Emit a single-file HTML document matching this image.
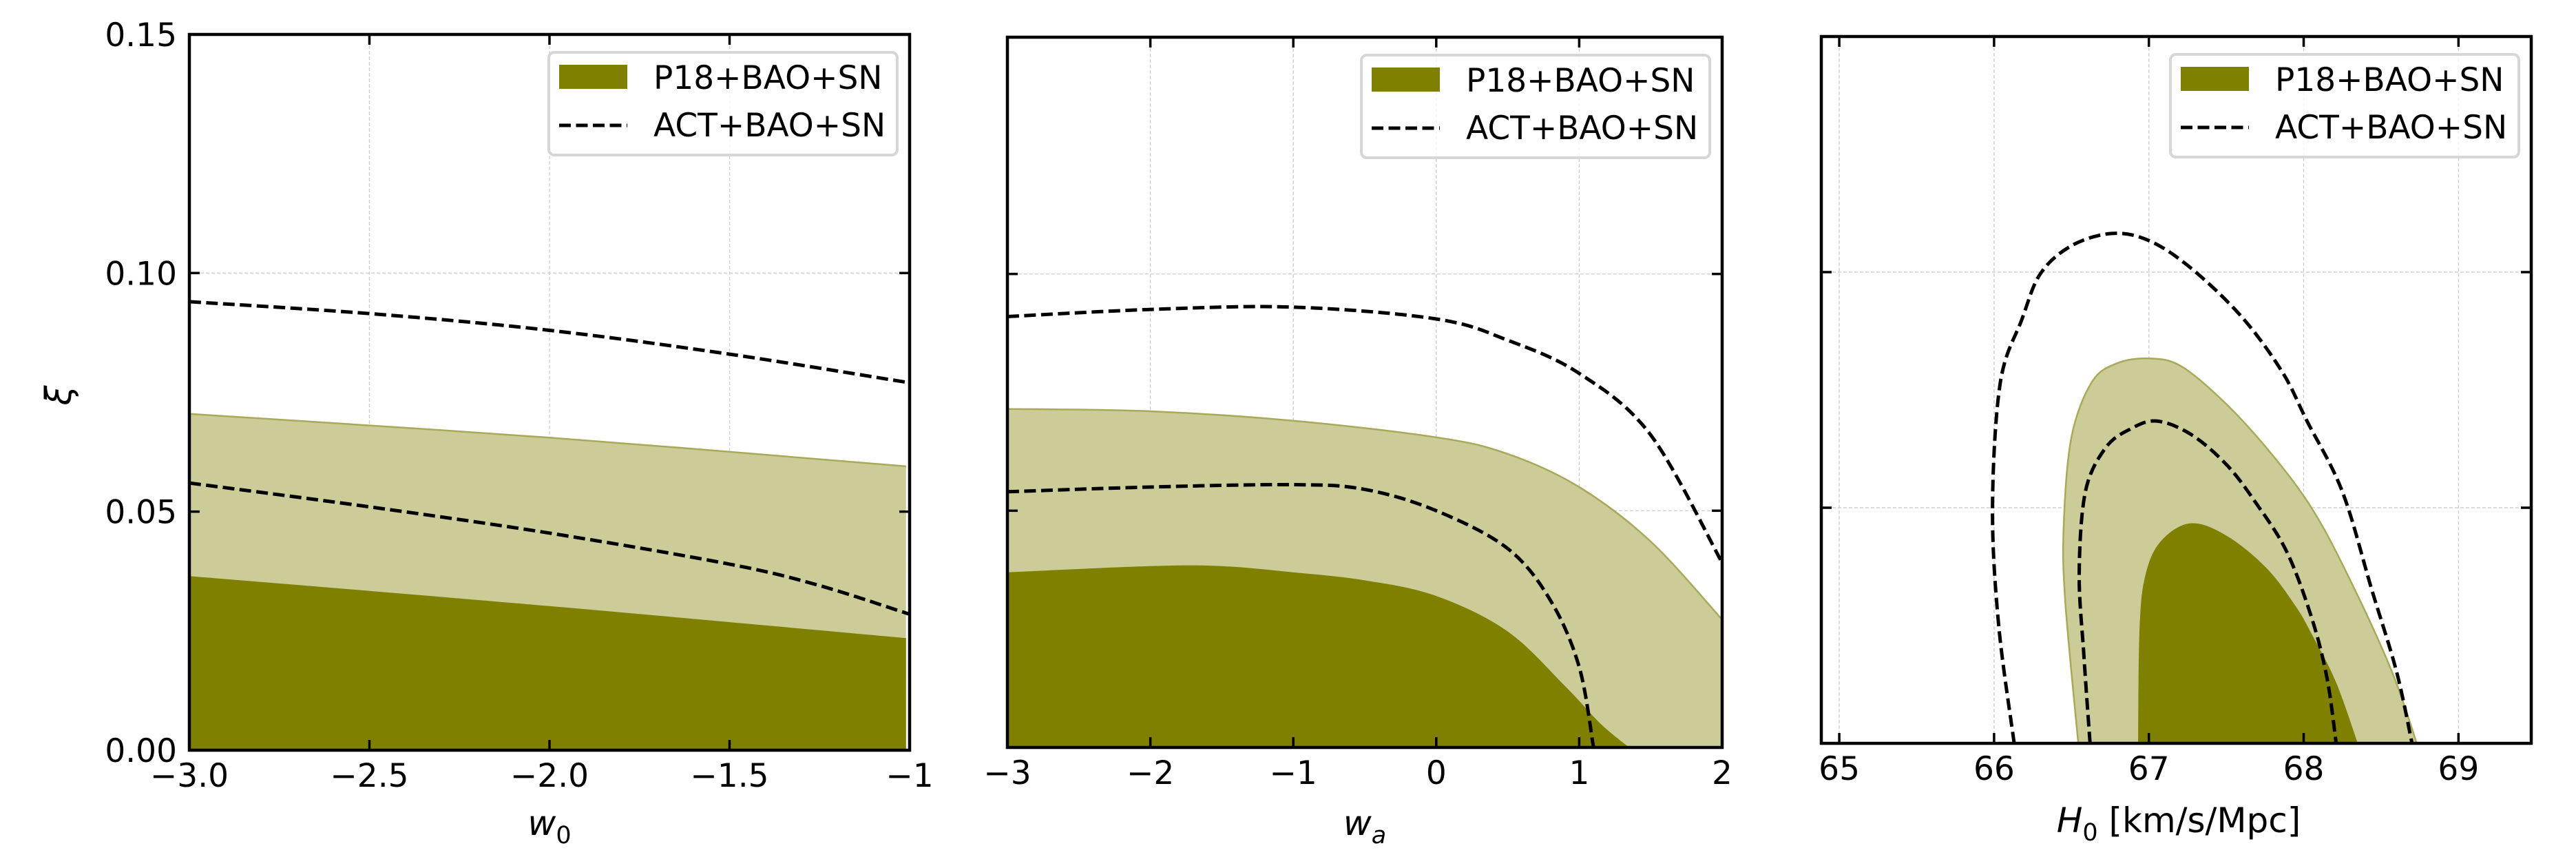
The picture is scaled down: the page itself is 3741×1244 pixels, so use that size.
<!DOCTYPE html>
<html><head><meta charset="utf-8"><style>
html,body{margin:0;padding:0;background:#fff;}
svg{display:block;}
text{font-family:"DejaVu Sans","Liberation Sans",sans-serif;fill:#000;}
</style></head><body>
<svg id="s" width="3741" height="1244" xmlns="http://www.w3.org/2000/svg"></svg>
<script>
const S=document.getElementById('s');let out='';
function cr(pts){
  let d='M'+pts[0][0].toFixed(1)+','+pts[0][1].toFixed(1);
  for(let i=0;i<pts.length-1;i++){
    const p0=pts[Math.max(i-1,0)],p1=pts[i],p2=pts[i+1],p3=pts[Math.min(i+2,pts.length-1)];
    const c1=[p1[0]+(p2[0]-p0[0])/6,p1[1]+(p2[1]-p0[1])/6],c2=[p2[0]-(p3[0]-p1[0])/6,p2[1]-(p3[1]-p1[1])/6];
    d+='C'+c1.map(v=>v.toFixed(1))+' '+c2.map(v=>v.toFixed(1))+' '+p2.map(v=>v.toFixed(1));
  }
  return d;
}
function panel(P){
  const X=v=>P.x0+(v-P.xmin)/(P.xmax-P.xmin)*(P.x1-P.x0);
  const Y=v=>P.y1-(v/0.15)*(P.y1-P.y0);
  const m=a=>a.map(p=>[X(p[0]),Y(p[1])]);
  out+=`<defs><clipPath id="c${P.id}"><rect x="${P.x0}" y="${P.y0}" width="${P.x1-P.x0}" height="${P.y1-P.y0}"/></clipPath></defs>`;
  out+=`<g clip-path="url(#c${P.id})">`;
  P.xt.forEach(t=>{const x=X(t);out+=`<line x1="${x}" y1="${P.y0}" x2="${x}" y2="${P.y1}" stroke="#cfcfcf" stroke-width="1.4" stroke-dasharray="5,3"/>`;});
  [0.05,0.10].forEach(t=>{const y=Y(t);out+=`<line x1="${P.x0}" y1="${y}" x2="${P.x1}" y2="${y}" stroke="#cfcfcf" stroke-width="1.4" stroke-dasharray="5,3"/>`;});
  const L=m(P.light), D=m(P.dark);
  if(P.closed){
    out+=`<path d="${cr(L)}Z" fill="#cccc99" stroke="#a9a95a" stroke-width="2.5"/>`;
    out+=`<path d="${cr(D)}Z" fill="#808000"/>`;
  }else{
    const yb=P.y1+5;
    out+=`<path d="${cr(L)}L${L[L.length-1][0]},${yb}L${L[0][0]},${yb}Z" fill="#cccc99"/>`;
    out+=`<path d="${cr(L)}" fill="none" stroke="#a9a95a" stroke-width="2.5"/>`;
    out+=`<path d="${cr(D)}L${D[D.length-1][0]},${yb}L${D[0][0]},${yb}Z" fill="#808000"/>`;
  }
  P.dash.forEach(a=>{out+=`<path d="${cr(m(a))}" fill="none" stroke="#000" stroke-width="5" stroke-dasharray="17,7.5"/>`;});
  out+='</g>';
  P.xt2.forEach(t=>{const x=X(t);out+=`<line x1="${x}" y1="${P.y1}" x2="${x}" y2="${P.y1-15}" stroke="#000" stroke-width="3.5"/><line x1="${x}" y1="${P.y0}" x2="${x}" y2="${P.y0+15}" stroke="#000" stroke-width="3.5"/>`;
    out+=`<text x="${x}" y="${P.y1+53}" font-size="47" text-anchor="middle">${P.xl(t)}</text>`;});
  [0,0.05,0.10,0.15].forEach(t=>{const y=Y(t);out+=`<line x1="${P.x0}" y1="${y}" x2="${P.x0+15}" y2="${y}" stroke="#000" stroke-width="3.5"/><line x1="${P.x1}" y1="${y}" x2="${P.x1-15}" y2="${y}" stroke="#000" stroke-width="3.5"/>`;
    if(P.id==1) out+=`<text x="${P.x0-18}" y="${y+17}" font-size="47" text-anchor="end">${t.toFixed(2)}</text>`;});
  out+=`<rect x="${P.x0}" y="${P.y0}" width="${P.x1-P.x0}" height="${P.y1-P.y0}" fill="none" stroke="#000" stroke-width="4.5"/>`;
  const lx=P.x1-524,ly=P.y0+26;
  out+=`<rect x="${lx}" y="${ly}" width="506" height="149" rx="8" fill="#fff" fill-opacity="0.8" stroke="#d6d6d6" stroke-width="4"/>`;
  out+=`<rect x="${lx+15}" y="${ly+18}" width="99" height="35" fill="#808000"/>`;
  out+=`<line x1="${lx+15}" y1="${ly+106}" x2="${lx+114}" y2="${ly+106}" stroke="#000" stroke-width="5" stroke-dasharray="17,7.5"/>`;
  out+=`<text x="${lx+152}" y="${ly+53}" font-size="47">P18+BAO+SN</text>`;
  out+=`<text x="${lx+152}" y="${ly+122}" font-size="47">ACT+BAO+SN</text>`;
  out+=P.label;
}
const mn=v=>(v<0?'\u2212':'')+Math.abs(v);
panel({id:1,x0:275,x1:1321,y0:50,y1:1089,xmin:-3,xmax:-1,xt:[-2.5,-2,-1.5],xt2:[-3,-2.5,-2,-1.5,-1],
 xl:t=>t==-1?'\u22121':mn(t)+(Number.isInteger(t)?'.0':''),
 light:[[-3,0.0705],[-2,0.0655],[-1.01,0.0595]],dark:[[-3,0.0365],[-2,0.0302],[-1.01,0.0235]],
 dash:[[[-3,0.094],[-2.5,0.0915],[-2,0.088],[-1.5,0.083],[-1,0.077]],[[-3,0.056],[-2.5,0.051],[-2,0.0455],[-1.5,0.039],[-1.25,0.0345],[-1,0.0285]]],
 label:`<text x="798" y="1212" font-size="50" font-style="italic" text-anchor="middle">w<tspan font-style="normal" font-size="35" dy="12">0</tspan></text><text x="103" y="574" font-size="52" font-style="italic" text-anchor="middle" transform="rotate(-90 103 574)">ξ</text>`});
panel({id:2,x0:1463,x1:2501,y0:54,y1:1085,xmin:-3,xmax:2,xt:[-2,-1,0,1],xt2:[-3,-2,-1,0,1,2],xl:mn,
 light:[[-3,0.0715],[-2,0.071],[-1,0.069],[0,0.0655],[0.5,0.062],[1,0.055],[1.5,0.0435],[2,0.027]],
 dark:[[-3,0.037],[-2,0.0383],[-1.5,0.0383],[-1,0.037],[-0.5,0.0353],[0,0.032],[0.5,0.0245],[0.9,0.013],[1.15,0.005],[1.35,0]],
 dash:[[[-3,0.091],[-2,0.0925],[-1,0.093],[0,0.0905],[0.5,0.086],[1,0.079],[1.5,0.066],[2,0.039]],
  [[-3,0.054],[-2,0.055],[-1,0.0555],[-0.5,0.0545],[0,0.05],[0.5,0.042],[0.8,0.031],[1,0.017],[1.1,0]]],
 label:`<text x="1982" y="1212" font-size="50" font-style="italic" text-anchor="middle">w<tspan font-size="35" dy="12">a</tspan></text>`});
panel({id:3,x0:2645,x1:3676,y0:53,y1:1079,xmin:64.884,xmax:69.47,xt:[65,66,67,68,69],xt2:[65,66,67,68,69],xl:t=>t,closed:true,
 light:[[66.55,-0.002],[66.46,0.03],[66.45,0.0465],[66.5,0.065],[66.63,0.0766],[66.79,0.0806],[67.0,0.0817],[67.21,0.08],[67.5,0.072],[67.79,0.0615],[68.05,0.05],[68.28,0.036],[68.57,0.0152],[68.75,-0.002]],
 dark:[[66.93,-0.002],[66.94,0.0245],[66.98,0.036],[67.08,0.043],[67.27,0.0467],[67.5,0.0441],[67.76,0.0372],[67.95,0.029],[68.05,0.0233],[68.21,0.0129],[68.37,-0.002]],
 dash:[[[66.13,0],[66.03,0.025],[65.99,0.05],[66.04,0.0765],[66.18,0.09],[66.3,0.0997],[66.5,0.1056],[66.76,0.1082],[67,0.1067],[67.27,0.1009],[67.6,0.0905],[67.86,0.0789],[68.02,0.0685],[68.25,0.0534],[68.44,0.0326],[68.6,0.0152],[68.7,0]],
  [[66.62,0],[66.58,0.0187],[66.55,0.036],[66.59,0.0534],[66.72,0.0627],[66.88,0.0667],[67.05,0.0684],[67.27,0.0656],[67.5,0.0592],[67.69,0.0511],[67.89,0.0407],[68.05,0.0268],[68.15,0.014],[68.21,0]]],
 label:`<text x="3164" y="1208" font-size="50" text-anchor="middle"><tspan font-style="italic">H</tspan><tspan font-size="35" dy="12">0</tspan><tspan dy="-12"> [km/s/Mpc]</tspan></text>`});
S.innerHTML=out;
</script>
</body></html>
